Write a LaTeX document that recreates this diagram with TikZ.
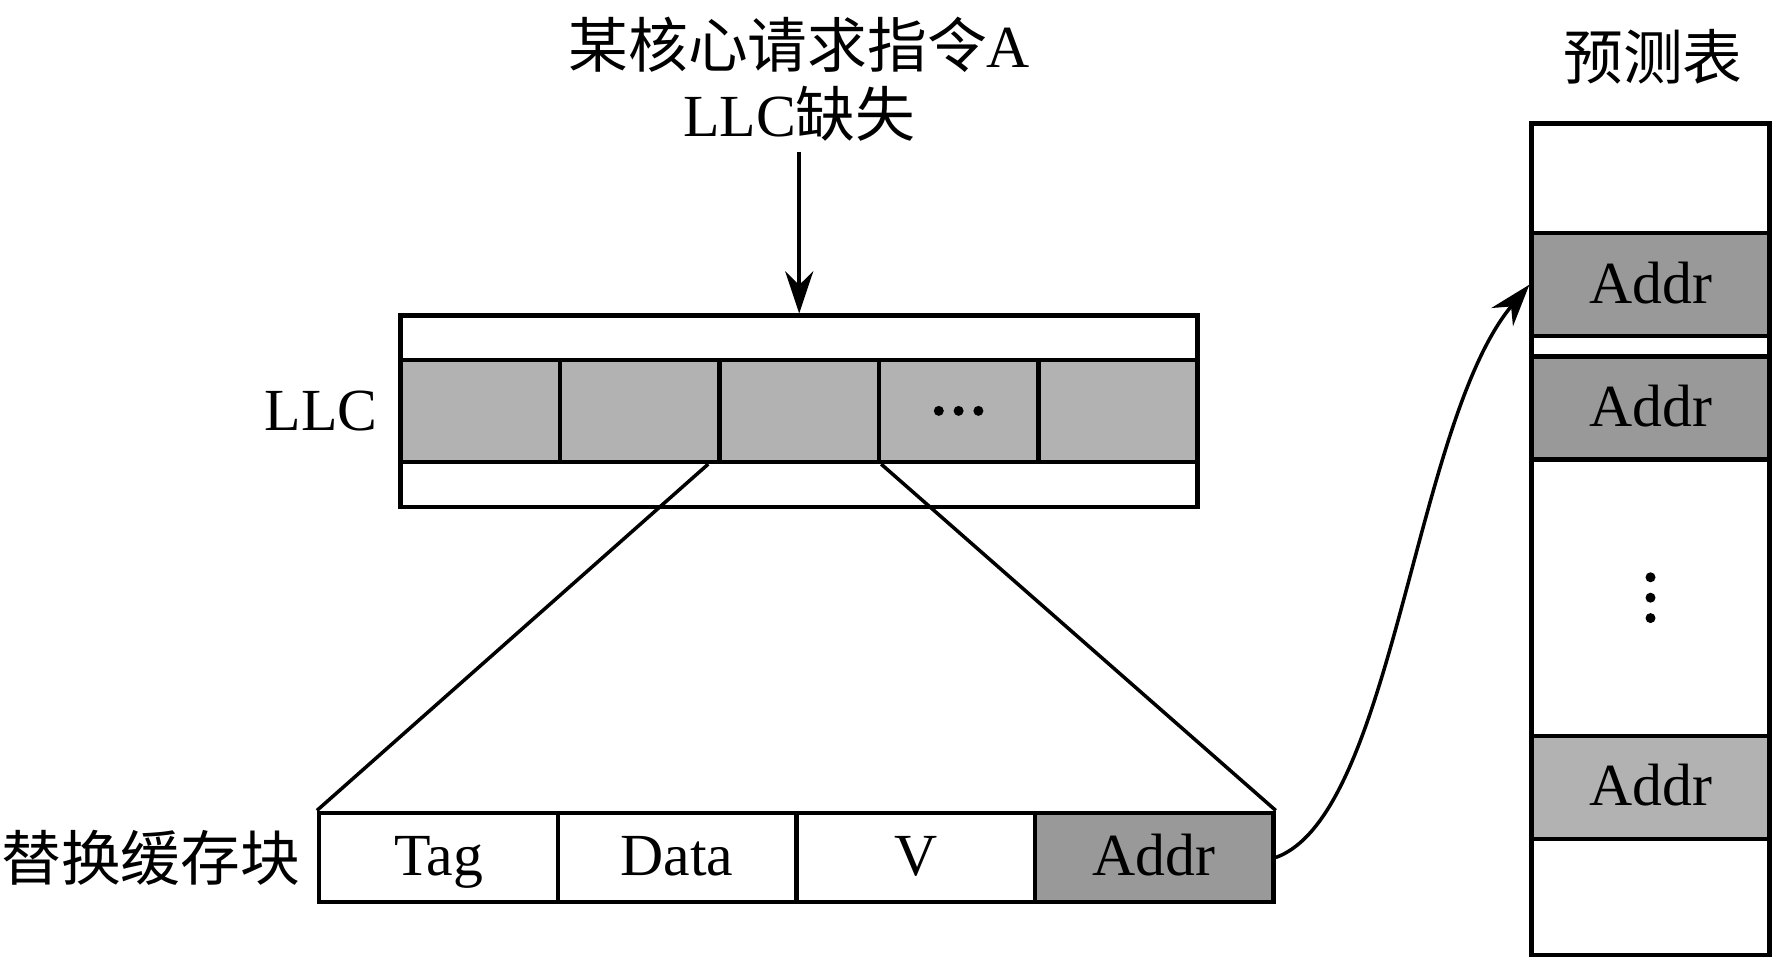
\documentclass[tikz,border=0pt]{standalone}
\usepackage{fontspec}
\setmainfont{Liberation Serif}
\newfontfamily\cjk{Noto Sans CJK SC}
\usepackage{tikz}
\usetikzlibrary{calc,positioning,arrows.meta}
\tikzset{
	cell/.style={draw, line width=1.3pt, inner sep=0, text height=11.5pt, text depth=1pt, font=\fontsize{17}{19.5}\selectfont},
	txt/.style={inner sep=0, font=\fontsize{17}{19.5}\selectfont},
	link/.style={line width=1pt},
	tip/.style={-{Stealth[length=12pt,width=8pt]}}
}
\definecolor{lightcell}{gray}{0.70}
\definecolor{darkcell}{gray}{0.60}
\begin{document}
\begin{tikzpicture}
			%%%%% START %%%%%
			\useasboundingbox (0, 0) rectangle (17.75, 9.59);
			
			% request and LLC
			\node[txt, align=center] (req) at (7.992, 8.80) {{\cjk 某核心请求指令}A\\LLC{\cjk 缺失}};
			\node[cell, minimum width=7.97cm, minimum height=1.913cm] (llc) at (7.992, 5.476) {};
			\foreach \x [count=\i] in {4.804, 6.398, 7.992, 9.586, 11.180}
				\node[cell, fill=lightcell, minimum width=1.594cm, minimum height=1.019cm] (c\i) at (\x, 5.481) {};
			\foreach \i in {-1, 0, 1}
				\fill ($(c4)+(\i*0.198, 0)$) circle (0.05);
			\node[txt, left=0.2cm of llc] (llclbl) {LLC};
			\draw[link, tip, shorten <=0.1cm] (req.south) -- (llc.north);
			
			% replaced block
			\node[cell, minimum width=2.386cm, minimum height=0.894cm] (b1) at (4.385, 1.015) {Tag};
			\node[cell, minimum width=2.386cm, minimum height=0.894cm] (b2) at (6.771, 1.015) {Data};
			\node[cell, minimum width=2.386cm, minimum height=0.894cm] (b3) at (9.157, 1.015) {V};
			\node[cell, fill=darkcell, minimum width=2.386cm, minimum height=0.894cm] (b4) at (11.542, 1.015) {Addr};
			\node[txt, left=0.16cm of b1] (blklbl) {\cjk 替换缓存块};
			
			\draw[link] (c3.south west) ++(-0.09, 0) -- (b1.north west);
			\draw[link] (c3.south east) -- (b4.north east);
			
			% prediction table
			\node[txt] (tbllbl) at (16.53, 9.02) {\cjk 预测表};
			\node[cell, minimum width=2.377cm, minimum height=8.316cm] (tbl) at (16.505, 4.198) {};
			\node[cell, fill=darkcell, minimum width=2.377cm, minimum height=1.03cm] (t1) at (16.505, 6.743) {Addr};
			\node[cell, fill=darkcell, minimum width=2.377cm, minimum height=1.03cm] (t2) at (16.505, 5.51) {Addr};
			\node[cell, fill=lightcell, minimum width=2.377cm, minimum height=1.03cm] (t3) at (16.505, 1.717) {Addr};
			\foreach \i in {-1, 0, 1}
				\fill (16.505, 3.613+\i*0.204) circle (0.05);
			
			\draw[link, tip] (b4.east) .. controls +(20:1.25) and +(230:1.8) .. (t1.west);
			%%%%% END %%%%%
		\end{tikzpicture}
\end{document}
